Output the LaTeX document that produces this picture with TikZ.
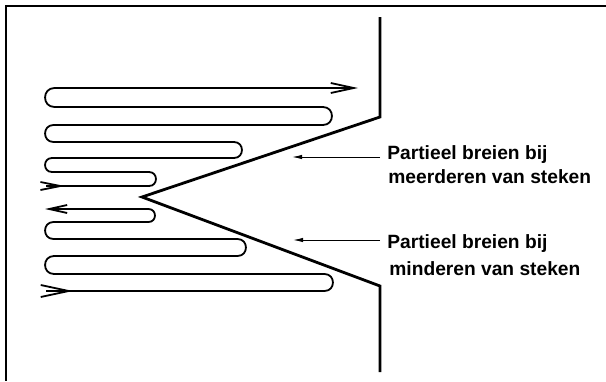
\documentclass[tikz,border=0pt]{standalone}
\usepackage{fontspec}
\setmainfont{Liberation Sans}
\usepackage{tikz}
\usetikzlibrary{
    arrows.meta,
    positioning
}

\begin{document}
\begin{tikzpicture}[
    x=0.5pt,
    y=-0.5pt,
    frame/.style={
        line width=1pt,
        color=black
    },
    border/.style={
        line width=1.4pt,
        line join=miter,
        color=black
    },
    yarn/.style={
        line width=0.9pt,
        color=black
    },
    loopr/.style={
        out=0,
        in=0,
        looseness=1.7
    },
    loopl/.style={
        out=180,
        in=180,
        looseness=1.7
    },
    label/.style={
        font=\fontsize{9.6}{11.5}\selectfont\bfseries,
        inner sep=0pt,
        anchor=base west
    },
    leader/.style={
        -{Latex[length=5pt,width=2.2pt]},
        line width=0.5pt,
        color=black
    }
]
%
\useasboundingbox (0,0) rectangle (606,381);
%
\draw[frame] (606,6) -- (6,6) -- (6,381);
%
\draw[border]
    (380,17)
    --
    (380,117)
    --
    (142,197)
    --
    (380,286)
    --
    (380,372);
%
% upper half: meerderen
\draw[yarn, -{Straight Barb[length=11.5pt,width=5pt]}]
    (46,186) -- (149,186) to[loopr] (149,172)
    -- (52,172) to[loopl] (52,158)
    -- (234,158) to[loopr] (234,142)
    -- (53.5,142) to[loopl] (53.5,125)
    -- (323,125) to[loopr] (323,107)
    -- (54.5,107) to[loopl] (54.5,88)
    -- (358,88);
\draw[yarn, -{Straight Barb[length=10pt,width=4pt]}] (46,186) -- (65,186);
%
% lower half: minderen
\draw[yarn, -{Straight Barb[length=9pt,width=4pt]}]
    (46,291) -- (324.5,291) to[loopr] (324.5,274)
    -- (54,274) to[loopl] (54,256)
    -- (237.5,256) to[loopr] (237.5,239)
    -- (53.5,239) to[loopl] (53.5,222)
    -- (148.5,222) to[loopr] (148.5,209)
    -- (45,209);
\draw[yarn, -{Straight Barb[length=14pt,width=6pt]}] (46,291) -- (73,291);
%
\node[label] (meerA) at (387,159) {Partieel breien bij};
\node[label] (meerB) at (388,183) {meerderen van steken};
%
\node[label] (minA) at (387,248) {Partieel breien bij};
\node[label] (minB) at (389,275) {minderen van steken};
%
\coordinate (meerTip) at (292,157);
\coordinate (minTip) at (293,240);
%
\draw[leader] ([xshift=-3.5pt,yshift=1pt]meerA.base west) -- (meerTip);
\draw[leader] ([xshift=-3.5pt,yshift=4pt]minA.base west) -- (minTip);
%
\end{tikzpicture}
\end{document}
